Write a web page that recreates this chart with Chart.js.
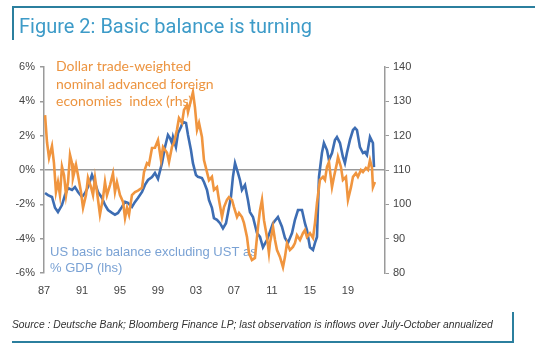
<!DOCTYPE html>
<html>
<head>
<meta charset="utf-8">
<script src="https://cdn.jsdelivr.net/npm/chart.js@4.4.0/dist/chart.umd.min.js"></script>
<style>
  html, body { margin: 0; padding: 0; background: #fff; }
  #wrap { position: relative; width: 535px; height: 352px; overflow: hidden; }
  #chart { position: absolute; left: 0; top: 0; }
  .frame { position: absolute; background: #2b7f9e; }
  #title { position: absolute; left: 19px; top: 14px; font: 20px Roboto, "Liberation Sans", Arial, sans-serif; color: #3d9bc8; white-space: nowrap; }
  #source { position: absolute; left: 12px; top: 319px; font: italic 10.3px "Liberation Sans", Arial, sans-serif; color: #333; white-space: nowrap; }
</style>
</head>
<body>
<div id="wrap">
  <canvas id="chart" width="535" height="352"></canvas>
  <div class="frame" style="left:12px;top:6px;width:523px;height:2px"></div>
  <div class="frame" style="left:12px;top:6px;width:2px;height:34px"></div>
  <div id="title">Figure 2: Basic balance is turning</div>
  <div id="source">Source : Deutsche Bank; Bloomberg Finance LP; last observation is inflows over July-October annualized</div>
  <div class="frame" style="left:12px;top:341px;width:502px;height:2px"></div>
  <div class="frame" style="left:512px;top:312px;width:2px;height:31px"></div>
</div>
<script>
// US basic balance excl. UST, % GDP (lhs)
const balanceYears = [1987.11, 1987.42, 1987.84, 1988.16, 1988.47, 1988.89, 1989.21, 1989.53, 1989.95, 1990.26,
  1990.58, 1991.0, 1991.32, 1991.63, 1992.05, 1992.37, 1992.68, 1993.11, 1993.42, 1993.74,
  1994.16, 1994.47, 1994.79, 1995.21, 1995.53, 1995.84, 1996.26, 1996.58, 1996.89, 1997.32,
  1997.63, 1997.95, 1998.37, 1998.68, 1999.0, 1999.42, 1999.74, 2000.05, 2000.26, 2000.47,
  2000.58, 2000.89, 2001.11, 2001.42, 2001.63, 2001.95, 2002.16, 2002.47, 2002.68, 2003.0,
  2003.21, 2003.63, 2003.84, 2004.16, 2004.37, 2004.68, 2004.89, 2005.21, 2005.53, 2005.84,
  2006.16, 2006.37, 2006.68, 2006.89, 2007.11, 2007.42, 2007.63, 2007.84, 2008.16, 2008.47,
  2008.68, 2009.0, 2009.42, 2009.74, 2010.05, 2010.47, 2010.79, 2011.11, 2011.63, 2012.05,
  2012.37, 2012.68, 2013.11, 2013.42, 2013.74, 2014.16, 2014.47, 2014.68, 2015.0, 2015.32,
  2015.53, 2015.74, 2015.95, 2016.26, 2016.47, 2016.79, 2017.0, 2017.32, 2017.63, 2017.84,
  2018.16, 2018.47, 2018.68, 2018.89, 2019.21, 2019.53, 2019.74, 2019.95, 2020.26, 2020.58,
  2020.79, 2021.0, 2021.32, 2021.63, 2021.74];
const balanceVals = [-1.34, -1.46, -1.57, -2.2, -2.45, -2.04, -1.46, -1.05, -1.16, -0.99,
  -1.28, -1.57, -1.34, -0.99, -0.29, -0.76, -1.28, -1.63, -2.04, -2.33,
  -2.5, -2.6, -2.5, -2.15, -1.86, -1.92, -2.15, -1.86, -1.63, -1.28,
  -0.87, -0.58, -0.41, -0.17, -0.52, 0.4, 1.34, 2.04, 1.86, 1.57,
  1.92, 1.34, 2.15, 2.5, 2.8, 2.74, 2.04, 1.16, 0.4, -0.29,
  -0.4, -0.47, -0.7, -1.16, -1.75, -2.2, -2.8, -2.9, -3.1, -3.4,
  -3.1, -2.5, -1.57, -0.4, 0.4, -0.17, -0.58, -1.16, -0.87, -1.75,
  -2.45, -2.74, -3.67, -3.9, -4.5, -4.08, -3.6, -3.1, -2.74, -3.3,
  -3.96, -4.25, -3.67, -2.9, -2.33, -2.33, -3.1, -3.5, -4.5, -4.66,
  -4.25, -3.9, -0.4, 0.99, 1.57, 1.16, 0.58, 0.99, 1.75, 1.92,
  1.57, 0.76, 0.4, 0.99, 1.75, 2.33, 2.45, 2.33, 1.34, 0.99,
  1.05, 0.87, 1.92, 1.57, 0.17];

// Dollar trade-weighted nominal advanced foreign economies index (rhs)
const dollarYears = [1987.11, 1987.32, 1987.53, 1987.84, 1988.05, 1988.26, 1988.47, 1988.68, 1988.89, 1989.11,
  1989.32, 1989.53, 1989.74, 1989.95, 1990.05, 1990.37, 1990.58, 1990.89, 1991.11, 1991.42,
  1991.63, 1991.95, 1992.16, 1992.37, 1992.58, 1992.89, 1993.21, 1993.42, 1993.63, 1993.95,
  1994.26, 1994.47, 1994.68, 1995.0, 1995.32, 1995.53, 1995.74, 1995.95, 1996.26, 1996.58,
  1996.89, 1997.32, 1997.53, 1997.84, 1998.05, 1998.37, 1998.68, 1999.0, 1999.32, 1999.53,
  1999.95, 2000.16, 2000.47, 2000.68, 2001.0, 2001.21, 2001.53, 2001.74, 2002.05, 2002.16,
  2002.47, 2002.68, 2002.89, 2003.11, 2003.32, 2003.63, 2003.84, 2004.16, 2004.37, 2004.68,
  2004.89, 2005.21, 2005.42, 2005.74, 2005.95, 2006.26, 2006.47, 2006.79, 2007.0, 2007.32,
  2007.53, 2007.84, 2008.05, 2008.37, 2008.58, 2008.89, 2009.21, 2009.53, 2009.74, 2009.95,
  2010.16, 2010.47, 2010.68, 2010.79, 2011.11, 2011.32, 2011.53, 2011.84, 2012.16, 2012.37,
  2012.58, 2012.89, 2013.21, 2013.42, 2013.63, 2013.95, 2014.26, 2014.47, 2014.68, 2015.0,
  2015.32, 2015.53, 2015.74, 2016.05, 2016.37, 2016.58, 2016.79, 2017.0, 2017.32, 2017.53,
  2017.84, 2017.95, 2018.26, 2018.47, 2018.79, 2019.0, 2019.32, 2019.53, 2019.84, 2020.05,
  2020.37, 2020.58, 2020.89, 2021.11, 2021.32, 2021.53, 2021.63, 2021.84];
const dollarVals = [126, 118, 113.5, 117, 112, 103.6, 106.5, 102.7, 111, 108.5,
  102.7, 106.5, 114.4, 112, 107.7, 111.5, 108.5, 103.6, 99, 102.7,
  107.7, 105, 102.7, 107.7, 103.6, 97, 101.8, 106.5, 102.7, 105.6,
  109, 103.6, 106.5, 102.7, 100.7, 96, 99, 97, 102.7, 103.6,
  104, 104.8, 109.4, 112, 111.5, 116.4, 116.5, 118.7, 112.9, 116.7,
  115, 112.3, 116.7, 117.9, 121.7, 125.1, 123.7, 127.5, 128.9, 126.9,
  130.4, 132.7, 128.3, 121.7, 123.7, 119.6, 112.9, 109.4, 107, 108,
  104.2, 105, 101.3, 96.3, 99.2, 101.3, 102.1, 101.3, 99.2, 96.3,
  97.5, 96.3, 94.6, 90.5, 85.8, 83.8, 84.4, 93.4, 98.3, 101.3,
  95.4, 90.5, 85.8, 88.7, 93.4, 89.6, 86.7, 84.7, 81.7, 84.7,
  88.7, 86.7, 87.6, 88.7, 91, 89.6, 91.6, 92.5, 90.5, 91.6,
  90.2, 94.6, 100.4, 107.1, 108, 107.1, 110.9, 112.3, 105, 108,
  112, 113.8, 110.9, 107.1, 108, 101.3, 105, 108, 109.1, 108,
  110, 109.4, 110.6, 110, 112.9, 110.6, 105, 106.5];

const tickYears = [1987, 1991, 1995, 1999, 2003, 2007, 2011, 2015, 2019];

const toPoints = (xs, ys) => xs.map((x, i) => ({ x: x, y: ys[i] }));

const tickFont = { family: 'Liberation Sans, Arial, sans-serif', size: 11 };
const axisGrey = '#9a9a9a';

// text labels sit under the lines
const notes = {
  id: 'notes',
  beforeDatasetsDraw(chart) {
    const ctx = chart.ctx;
    ctx.save();
    ctx.textBaseline = 'middle';
    ctx.font = '14px Lato, "Open Sans", sans-serif';
    ctx.fillStyle = '#ec9440';
    ctx.fillText('Dollar trade-weighted', 56, 66);
    ctx.fillText('nominal advanced foreign', 56, 84);
    ctx.fillText('economies  index (rhs)', 56, 101);
    ctx.font = '13px "Liberation Sans", Arial, sans-serif';
    ctx.fillStyle = '#7aa2d4';
    ctx.fillText('US basic balance excluding UST as', 50, 252);
    ctx.fillText('% GDP (lhs)', 50, 268);
    ctx.restore();
  }
};

new Chart(document.getElementById('chart'), {
  type: 'line',
  data: {
    datasets: [
      {
        label: 'Dollar index',
        data: toPoints(dollarYears, dollarVals),
        yAxisID: 'yR',
        borderColor: '#f0953f',
        borderWidth: 2.6,
        pointRadius: 0,
        tension: 0
      },
      {
        label: 'US basic balance',
        data: toPoints(balanceYears, balanceVals),
        yAxisID: 'yL',
        borderColor: '#3d6db3',
        borderWidth: 2.6,
        pointRadius: 0,
        tension: 0
      }
    ]
  },
  options: {
    responsive: false,
    animation: false,
    layout: { padding: { top: 67, left: 0, right: 120, bottom: 49 } },
    plugins: { legend: { display: false }, tooltip: { enabled: false } },
    scales: {
      x: {
        type: 'linear',
        min: 1987,
        max: 2022.9,
        afterBuildTicks: (scale) => { scale.ticks = tickYears.map(v => ({ value: v })); },
        afterFit: (scale) => { scale.height = 30; },
        border: { display: false },
        grid: { display: false, drawTicks: false },
        ticks: {
          padding: 11,
          maxRotation: 0,
          autoSkip: false,
          color: '#444',
          font: tickFont,
          callback: (v) => String(v).slice(2)
        }
      },
      yL: {
        position: 'left',
        min: -6,
        max: 6,
        afterFit: (scale) => { scale.width = 44; },
        border: { color: axisGrey, width: 1.5 },
        grid: {
          color: (c) => c.tick && c.tick.value === 0 ? axisGrey : 'transparent',
          lineWidth: 1.5,
          tickColor: axisGrey,
          tickLength: 4
        },
        ticks: {
          stepSize: 2,
          padding: 5,
          color: '#444',
          font: tickFont,
          callback: (v) => v + '%'
        }
      },
      yR: {
        position: 'right',
        min: 80,
        max: 140,
        afterFit: (scale) => { scale.width = 30; },
        border: { color: axisGrey, width: 1.5 },
        grid: { drawOnChartArea: false, tickColor: axisGrey, tickLength: 4 },
        ticks: {
          stepSize: 10,
          padding: 4,
          color: '#444',
          font: tickFont
        }
      }
    }
  },
  plugins: [notes]
});
</script>
</body>
</html>
